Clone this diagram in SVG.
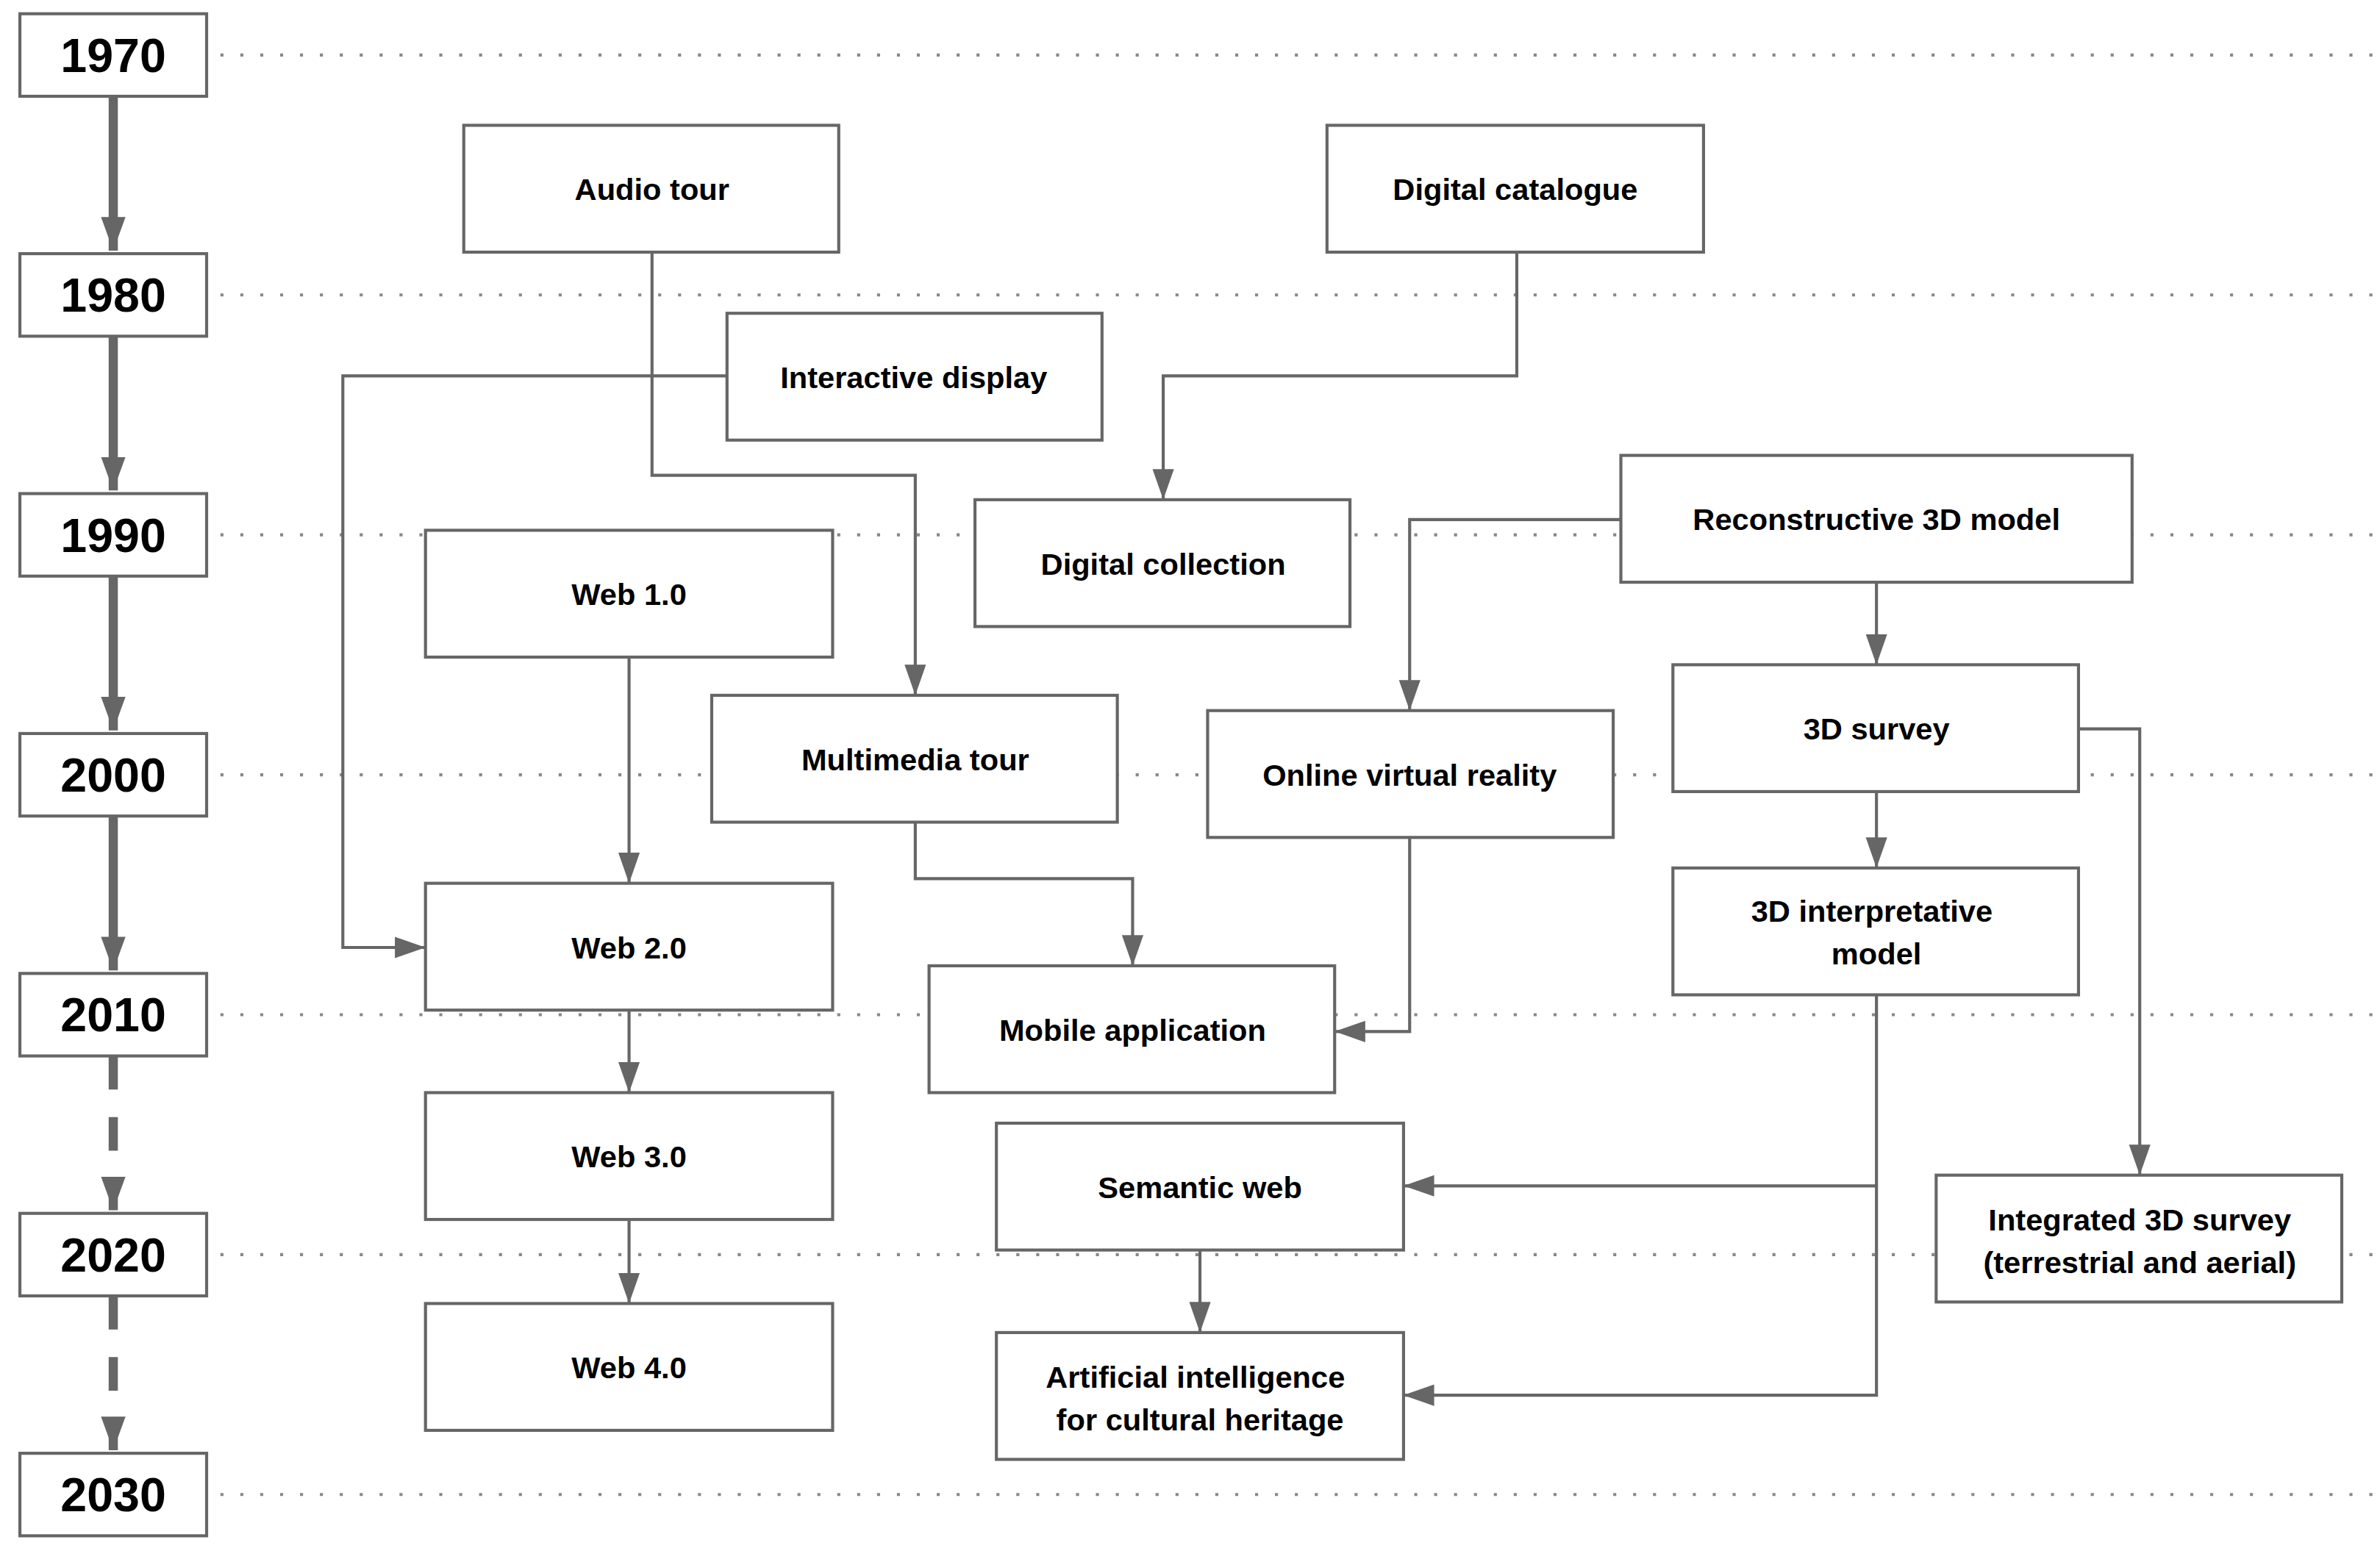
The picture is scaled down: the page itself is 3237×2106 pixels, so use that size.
<svg xmlns="http://www.w3.org/2000/svg" width="3237" height="2106" viewBox="0 0 3237 2106">
<defs>
<style>
.n rect{fill:#fff;stroke:#666;stroke-width:2}
.n text{font-family:"Liberation Sans",Arial,sans-serif;font-weight:bold;font-size:20px;fill:#000;text-anchor:middle}
.y rect{fill:#fff;stroke:#666;stroke-width:2}
.y text{font-family:"Liberation Sans",Arial,sans-serif;font-weight:bold;font-size:31px;fill:#000;text-anchor:middle}
.c{fill:none;stroke:#666;stroke-width:2;marker-end:url(#a)}
.dot{stroke:#888;stroke-width:2;stroke-dasharray:2 11}
.t{stroke:#666;stroke-width:6;marker-end:url(#b)}
</style>
<marker id="a" markerUnits="userSpaceOnUse" markerWidth="20" markerHeight="20" viewBox="0 0 20 20" refX="20" refY="10" orient="auto"><path d="M0,3 L20,10 L0,17 z" fill="#666"/></marker>
<marker id="b" markerUnits="userSpaceOnUse" markerWidth="24" markerHeight="24" viewBox="0 0 24 24" refX="22" refY="12" orient="auto"><path d="M0,4 L22,12 L0,20 z" fill="#666"/></marker>
</defs>
<rect width="3237" height="2106" fill="#fff"/>
<g transform="scale(2.0817,2.079)">
<g id="grid">
<line class="dot" x1="144" y1="36" x2="1555" y2="36"/>
<line class="dot" x1="144" y1="193" x2="1555" y2="193"/>
<line class="dot" x1="144" y1="350" x2="1555" y2="350"/>
<line class="dot" x1="144" y1="507" x2="1555" y2="507"/>
<line class="dot" x1="144" y1="664" x2="1555" y2="664"/>
<line class="dot" x1="144" y1="821" x2="1555" y2="821"/>
<line class="dot" x1="144" y1="978" x2="1555" y2="978"/>
</g>
<g id="timeline">
<line class="t" x1="74" y1="63" x2="74" y2="164"/>
<line class="t" x1="74" y1="220" x2="74" y2="321"/>
<line class="t" x1="74" y1="377" x2="74" y2="478"/>
<line class="t" x1="74" y1="534" x2="74" y2="635"/>
<line class="t" x1="74" y1="691" x2="74" y2="792" stroke-dasharray="22 18"/>
<line class="t" x1="74" y1="848" x2="74" y2="949" stroke-dasharray="22 18"/>
</g>
<g class="y" id="y1970"><rect x="13" y="9" width="122" height="54"/><text x="74" y="47">1970</text></g>
<g class="y" id="y1980"><rect x="13" y="166" width="122" height="54"/><text x="74" y="204">1980</text></g>
<g class="y" id="y1990"><rect x="13" y="323" width="122" height="54"/><text x="74" y="361">1990</text></g>
<g class="y" id="y2000"><rect x="13" y="480" width="122" height="54"/><text x="74" y="518">2000</text></g>
<g class="y" id="y2010"><rect x="13" y="637" width="122" height="54"/><text x="74" y="675">2010</text></g>
<g class="y" id="y2020"><rect x="13" y="794" width="122" height="54"/><text x="74" y="832">2020</text></g>
<g class="y" id="y2030"><rect x="13" y="951" width="122" height="54"/><text x="74" y="989">2030</text></g>
<g id="connectors">
<path class="c" d="M426,165 V311 H598 V455"/>
<path class="c" d="M475,246 H224 V620 H278"/>
<path class="c" d="M991,165 V246 H760 V327"/>
<path class="c" d="M1059,340 H921 V465"/>
<path class="c" d="M1226,381 V435"/>
<path class="c" d="M411,430 V578"/>
<path class="c" d="M411,661 V715"/>
<path class="c" d="M411,798 V853"/>
<path class="c" d="M598,538 V575 H740 V632"/>
<path class="c" d="M921,548 V675 H872"/>
<path class="c" d="M1226,518 V568"/>
<path class="c" d="M1358,477 H1398 V769"/>
<path class="c" d="M1226,651 V913 H917"/>
<path class="c" d="M1226,776 H917"/>
<path class="c" d="M784,818 V872"/>
</g>
<g class="n" id="audio"><rect x="303" y="82" width="245" height="83"/><text x="426" y="131">Audio tour</text></g>
<g class="n" id="catalogue"><rect x="867" y="82" width="246" height="83"/><text x="990" y="131">Digital catalogue</text></g>
<g class="n" id="interactive"><rect x="475" y="205" width="245" height="83"/><text x="597" y="254">Interactive display</text></g>
<g class="n" id="collection"><rect x="637" y="327" width="245" height="83"/><text x="760" y="376">Digital collection</text></g>
<g class="n" id="recon"><rect x="1059" y="298" width="334" height="83"/><text x="1226" y="347">Reconstructive 3D model</text></g>
<g class="n" id="web1"><rect x="278" y="347" width="266" height="83"/><text x="411" y="396">Web 1.0</text></g>
<g class="n" id="multimedia"><rect x="465" y="455" width="265" height="83"/><text x="598" y="504">Multimedia tour</text></g>
<g class="n" id="ovr"><rect x="789" y="465" width="265" height="83"/><text x="921" y="514">Online virtual reality</text></g>
<g class="n" id="survey"><rect x="1093" y="435" width="265" height="83"/><text x="1226" y="484">3D survey</text></g>
<g class="n" id="web2"><rect x="278" y="578" width="266" height="83"/><text x="411" y="627">Web 2.0</text></g>
<g class="n" id="interp"><rect x="1093" y="568" width="265" height="83"/><text x="1223" y="603">3D interpretative</text><text x="1226" y="631">model</text></g>
<g class="n" id="mobile"><rect x="607" y="632" width="265" height="83"/><text x="740" y="681">Mobile application</text></g>
<g class="n" id="web3"><rect x="278" y="715" width="266" height="83"/><text x="411" y="764">Web 3.0</text></g>
<g class="n" id="semantic"><rect x="651" y="735" width="266" height="83"/><text x="784" y="784">Semantic web</text></g>
<g class="n" id="integrated"><rect x="1265" y="769" width="265" height="83"/><text x="1398" y="805">Integrated 3D survey</text><text x="1398" y="833">(terrestrial and aerial)</text></g>
<g class="n" id="web4"><rect x="278" y="853" width="266" height="83"/><text x="411" y="902">Web 4.0</text></g>
<g class="n" id="ai"><rect x="651" y="872" width="266" height="83"/><text x="781" y="908">Artificial intelligence</text><text x="784" y="936">for cultural heritage</text></g>
</g>
</svg>
